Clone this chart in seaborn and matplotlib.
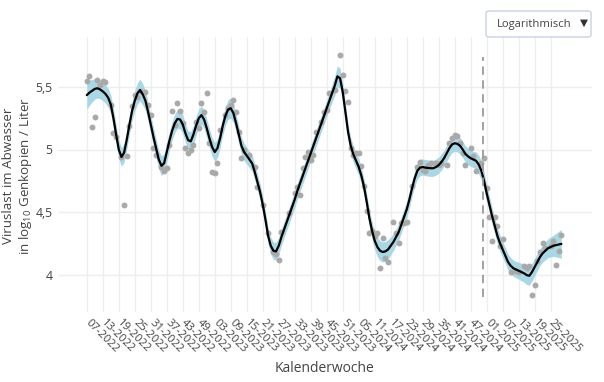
import matplotlib
matplotlib.use("Agg")
import numpy as np
import pandas as pd
import matplotlib.pyplot as plt
import seaborn as sns
from matplotlib.patches import FancyBboxPatch

# ---------------- data ----------------
start_week, start_year, n_weeks = 7, 2022, 179

# smoothed curve (log10 gene copies / L), one value per week from 07-2022
curve = [
    5.435, 5.455, 5.47, 5.485, 5.49, 5.48, 5.465, 5.445, 5.415, 5.36,
    5.25, 5.12, 5.00, 4.94, 4.975, 5.08, 5.20, 5.31, 5.39, 5.45,
    5.475, 5.44, 5.39, 5.30, 5.20, 5.10, 5.01, 4.92, 4.87, 4.89,
    4.98, 5.07, 5.15, 5.21, 5.245, 5.24, 5.20, 5.13, 5.075, 5.065,
    5.12, 5.19, 5.25, 5.275, 5.24, 5.17, 5.09, 5.02, 4.98, 5.01,
    5.09, 5.19, 5.27, 5.32, 5.33, 5.29, 5.21, 5.12, 5.03, 4.98,
    4.95, 4.92, 4.89, 4.82, 4.74, 4.66, 4.56, 4.44, 4.31, 4.23,
    4.19, 4.185, 4.23, 4.30, 4.36, 4.42, 4.48, 4.54, 4.60, 4.67,
    4.73, 4.79, 4.85, 4.91, 4.97, 5.03, 5.09, 5.15, 5.21, 5.27,
    5.33, 5.39, 5.45, 5.51, 5.585, 5.57, 5.46, 5.30, 5.14, 5.03,
    4.96, 4.91, 4.86, 4.79, 4.70, 4.58, 4.45, 4.35, 4.27, 4.22,
    4.19, 4.18, 4.185, 4.20, 4.23, 4.26, 4.30, 4.34, 4.40, 4.46,
    4.52, 4.60, 4.69, 4.77, 4.83, 4.855, 4.86, 4.855, 4.852, 4.85,
    4.85, 4.86, 4.875, 4.90, 4.93, 4.97, 5.01, 5.04, 5.05, 5.045,
    5.03, 5.00, 4.965, 4.945, 4.93, 4.92, 4.91, 4.88, 4.83, 4.75,
    4.65, 4.56, 4.47, 4.39, 4.31, 4.25, 4.20, 4.15, 4.10, 4.07,
    4.05, 4.04, 4.03, 4.02, 4.01, 3.995, 3.99, 4.02, 4.06, 4.10,
    4.14, 4.17, 4.19, 4.21, 4.22, 4.23, 4.235, 4.24, 4.245,
]

# half width of the confidence band, one value per week
band_half = [
    0.115, 0.10, 0.09, 0.082, 0.078, 0.075, 0.075, 0.075, 0.075, 0.075,
    0.075, 0.075, 0.075, 0.075, 0.075, 0.075, 0.075, 0.075, 0.08, 0.085,
    0.088, 0.085, 0.08, 0.075, 0.075, 0.075, 0.075, 0.075, 0.078, 0.075,
    0.075, 0.075, 0.075, 0.075, 0.075, 0.075, 0.075, 0.075, 0.075, 0.075,
    0.075, 0.075, 0.075, 0.075, 0.075, 0.075, 0.075, 0.075, 0.075, 0.075,
    0.075, 0.075, 0.075, 0.08, 0.08, 0.075, 0.07, 0.07, 0.07, 0.07,
    0.068, 0.065, 0.065, 0.065, 0.065, 0.065, 0.065, 0.065, 0.065, 0.068,
    0.07, 0.07, 0.068, 0.065, 0.065, 0.065, 0.065, 0.065, 0.065, 0.065,
    0.065, 0.065, 0.065, 0.065, 0.065, 0.065, 0.065, 0.065, 0.065, 0.065,
    0.065, 0.068, 0.072, 0.078, 0.085, 0.08, 0.072, 0.068, 0.065, 0.065,
    0.065, 0.065, 0.065, 0.065, 0.065, 0.065, 0.065, 0.07, 0.072, 0.078,
    0.08, 0.08, 0.08, 0.078, 0.072, 0.068, 0.065, 0.065, 0.065, 0.065,
    0.065, 0.065, 0.065, 0.065, 0.065, 0.065, 0.065, 0.065, 0.065, 0.065,
    0.065, 0.065, 0.065, 0.065, 0.065, 0.065, 0.065, 0.065, 0.065, 0.065,
    0.065, 0.065, 0.065, 0.065, 0.065, 0.065, 0.07, 0.075, 0.075, 0.072,
    0.068, 0.065, 0.065, 0.065, 0.065, 0.065, 0.065, 0.065, 0.065, 0.065,
    0.065, 0.065, 0.068, 0.07, 0.072, 0.075, 0.075, 0.072, 0.07, 0.068,
    0.068, 0.07, 0.072, 0.075, 0.08, 0.085, 0.095, 0.105, 0.115,
]

# measured points: week offset from 07-2022 and value
point_week = [
    0, 1, 2, 3, 4, 5, 6, 7, 9, 10, 11, 13, 14, 15, 16, 17, 18, 19, 20, 22,
    23, 24, 25, 26, 28, 29, 30, 31, 32, 33, 34, 35, 36, 37, 38, 39, 40, 41, 42, 43,
    44, 45, 46, 47, 48, 49, 50, 52, 53, 54, 55, 56, 57, 58, 59, 61, 63, 64, 66, 68,
    70, 71, 72, 73, 76, 78, 79, 80, 81, 82, 83, 84, 85, 86, 88, 89, 90, 91, 93, 95,
    96, 97, 98, 99, 100, 101, 102, 103, 104, 105, 106, 107, 108, 109, 110, 111, 112, 113, 115, 116,
    117, 118, 119, 120, 122, 124, 125, 126, 127, 128, 129, 131, 132, 133, 135, 136, 137, 138, 139, 140,
    141, 142, 144, 145, 146, 148, 149, 150, 151, 152, 153, 154, 155, 156, 159, 161, 162, 164, 165, 166,
    167, 168, 169, 170, 171, 172, 174, 175, 176, 177, 178,
]
point_val = [
    5.55, 5.59, 5.18, 5.26, 5.555, 5.515, 5.55, 5.54, 5.36, 5.13, 5.10, 4.94, 4.56, 4.95, 5.19, 5.35, 5.435, 5.42, 5.47, 5.46,
    5.355, 5.275, 5.01, 4.955, 4.86, 4.83, 4.855, 5.035, 5.31, 5.195, 5.37, 5.31, 5.21, 5.015, 4.97, 5.00, 5.035, 5.22, 5.17, 5.37,
    5.30, 5.45, 5.05, 4.82, 4.81, 4.89, 5.155, 5.275, 5.33, 5.355, 5.395, 5.30, 5.14, 4.935, 4.995, 4.955, 4.86, 4.70, 4.555, 4.33,
    4.18, 4.165, 4.12, 4.34, 4.49, 4.65, 4.70, 4.635, 4.85, 4.94, 4.98, 4.92, 4.955, 5.14, 5.22, 5.30, 5.315, 5.45, 5.48, 5.76,
    5.595, 5.47, 5.38, 5.01, 4.96, 4.97, 4.97, 4.866, 4.71, 4.51, 4.33, 4.35, 4.31, 4.33, 4.05, 4.29, 4.13, 4.10, 4.42, 4.33,
    4.25, 4.41, 4.41, 4.42, 4.71, 4.86, 4.90, 4.835, 4.83, 4.875, 4.89, 4.89, 4.875, 4.89, 4.875, 5.05, 5.09, 5.12, 5.105, 5.05,
    4.97, 4.88, 5.015, 4.95, 4.83, 4.89, 4.935, 4.69, 4.46, 4.27, 4.46, 4.385, 4.225, 4.285, 4.02, 4.03, 4.02, 4.065, 4.055, 4.065,
    3.84, 3.92, 4.11, 4.18, 4.25, 4.21, 4.225, 4.27, 4.08, 4.19, 4.32,
]

x_tick_labels = [
    "07-2022", "13-2022", "19-2022", "25-2022", "31-2022", "37-2022", "43-2022", "49-2022",
    "03-2023", "09-2023", "15-2023", "21-2023", "27-2023", "33-2023", "39-2023", "45-2023",
    "51-2023", "05-2024", "11-2024", "17-2024", "23-2024", "29-2024", "35-2024", "41-2024",
    "47-2024", "01-2025", "07-2025", "13-2025", "19-2025", "25-2025",
]
y_ticks = [4, 4.5, 5, 5.5]
y_tick_labels = ["4", "4,5", "5", "5,5"]
marker_week = 148.5

# week labels (categories)
weeks = []
w, y = start_week, start_year
for _ in range(n_weeks):
    weeks.append(f"{w:02d}-{y}")
    w += 1
    if w > 52:
        w, y = 1, y + 1

curve_df = pd.DataFrame({"idx": np.arange(n_weeks), "week": weeks,
                         "fit": curve, "half": band_half})
pts_df = pd.DataFrame({"idx": point_week, "val": point_val})

# ---------------- style ----------------
sns.set_theme(style="white")
plt.rcParams["font.family"] = ["Open Sans", "DejaVu Sans"]
plt.rcParams["mathtext.fontset"] = "custom"
plt.rcParams["mathtext.rm"] = "Open Sans"
plt.rcParams["mathtext.it"] = "Open Sans"
plt.rcParams["mathtext.default"] = "regular"
plt.rcParams["lines.scale_dashes"] = False
txt = "#444444"

fig = plt.figure(figsize=(6.04, 3.82), dpi=100)
ax = fig.add_axes([58 / 604, 1 - 312 / 382, 534 / 604, 275 / 382])

for s in ax.spines.values():
    s.set_visible(False)
ax.set_axisbelow(True)
ax.grid(True, color="#eeeeee", lw=1)

ax.fill_between(curve_df["idx"], curve_df["fit"] - curve_df["half"],
                curve_df["fit"] + curve_df["half"], color="#a8d8e6", lw=0, zorder=2)
sns.scatterplot(data=pts_df, x="idx", y="val", ax=ax, color="#a9a9a9",
                s=18, linewidth=0, zorder=3, legend=False)
sns.lineplot(data=curve_df, x="idx", y="fit", ax=ax, color="black", lw=1.6,
             zorder=4, legend=False)
ax.axvline(marker_week, ymin=0.055, ymax=0.927, color="#9a9a9a", lw=1.3,
           dashes=(6, 4), zorder=5)

ax.set_xlim(-10.8, 189.5)
ax.set_ylim(3.70, 5.90)
ax.set_xticks(np.arange(0, n_weeks, 6)[:len(x_tick_labels)])
ax.set_xticklabels(x_tick_labels, rotation=-45, ha="left", va="center",
                   rotation_mode="anchor", fontsize=8.1, color=txt)
ax.set_yticks(y_ticks)
ax.set_yticklabels(y_tick_labels, fontsize=8.8, color=txt)
ax.tick_params(axis="x", length=0, pad=7)
ax.tick_params(axis="y", length=0, pad=4)
ax.set_xlabel("")
ax.set_ylabel("")

fig.text(325 / 604, 1 - 368 / 382, "Kalenderwoche", ha="center", va="center",
         fontsize=10, color=txt)
fig.text(18 / 604, 1 - 176 / 382,
         "Viruslast im Abwasser\nin log$_{10}$ Genkopien / Liter",
         rotation=90, ha="center", va="center", fontsize=9.6, color=txt,
         linespacing=1.2, multialignment="center")

# dropdown box
box = FancyBboxPatch((486 / 604, 1 - 37 / 382), 105 / 604, 26 / 382,
                     boxstyle="round,pad=0,rounding_size=0.006",
                     transform=fig.transFigure, facecolor="white",
                     edgecolor="#c8d2e2", lw=1, zorder=10)
fig.patches.append(box)
fig.text(497 / 604, 1 - 24 / 382, "Logarithmisch", ha="left", va="center",
         fontsize=8.1, color=txt, zorder=11)
fig.text(584 / 604, 1 - 23 / 382, "▼", ha="center", va="center",
         fontsize=7.5, color="#333333", family=["DejaVu Sans"], zorder=11)

fig.savefig("out.png", dpi=100)
